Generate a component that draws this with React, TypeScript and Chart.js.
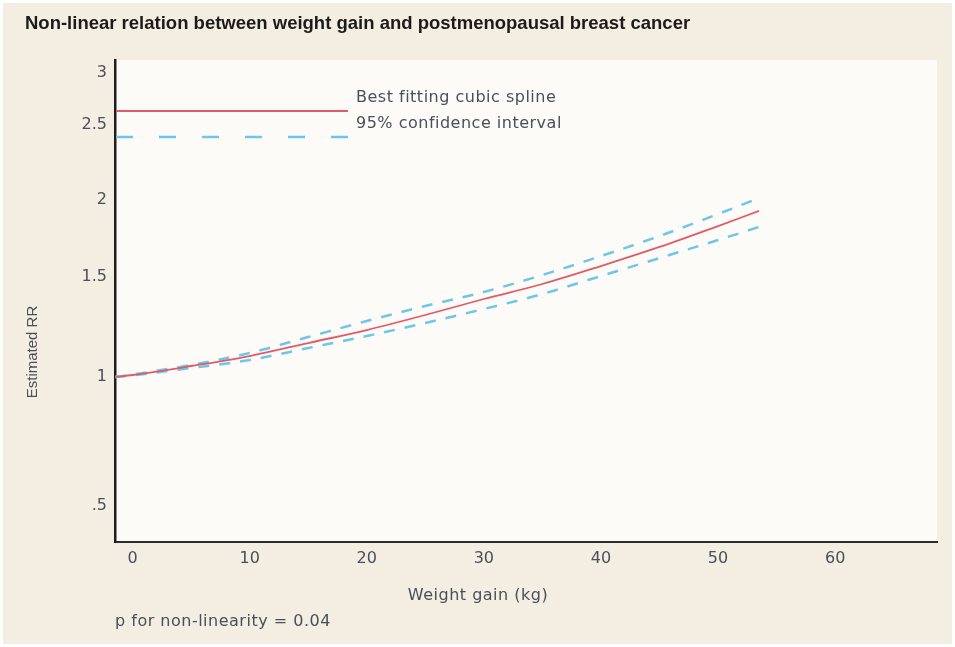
import React, { useEffect, useRef } from 'react';
import { Chart, registerables, LinearScale } from 'chart.js';

Chart.register(...registerables);

// ---- data ----
const WEIGHT_GAIN = [-1.5, 0, 5, 10, 15, 20, 25, 30, 35, 40, 45, 50, 53.5];
const SPLINE_RR = [1.0, 1.01, 1.055, 1.105, 1.17, 1.235, 1.31, 1.39, 1.465, 1.571, 1.695, 1.831, 1.929];
const UPPER_CI = [1.0, 1.0125, 1.06, 1.12, 1.2, 1.28, 1.355, 1.425, 1.513, 1.636, 1.766, 1.909, 2.013];
const LOWER_CI = [1.0, 1.008, 1.045, 1.085, 1.145, 1.205, 1.27, 1.34, 1.415, 1.506, 1.623, 1.74, 1.825];

const X_TICKS = [0, 10, 20, 30, 40, 50, 60];
const Y_TICKS = [0.5, 1, 1.5, 2, 2.5, 3];
const Y_TICK_LABELS = ['.5', '1', '1.5', '2', '2.5', '3'];

// breakpoints of the original's uneven RR axis (value -> share of axis height)
const Y_AXIS_VALUES = [0.36, 0.5, 1, 1.5, 2, 2.5, 3, 3.125];
const Y_AXIS_FRACTIONS = [0, 0.0747, 0.3423, 0.5498, 0.7095, 0.865, 0.973, 1];

const TITLE = 'Non-linear relation between weight gain and postmenopausal breast cancer';
const LEGEND_LABELS = ['Best fitting cubic spline', '95% confidence interval'];
const X_TITLE = 'Weight gain (kg)';
const Y_TITLE = 'Estimated RR';
const FOOTNOTE = 'p for non-linearity = 0.04';

const RED = '#e25a66';
const BLUE = '#70c6ea';
const TEXT = '#4a4f5a';

function interp(v: number, xs: number[], ys: number[]): number {
  const n = xs.length;
  let i = 0;
  if (v <= xs[0]) i = 0;
  else if (v >= xs[n - 1]) i = n - 2;
  else {
    while (i < n - 2 && v > xs[i + 1]) i++;
  }
  const t = (v - xs[i]) / (xs[i + 1] - xs[i]);
  return ys[i] + t * (ys[i + 1] - ys[i]);
}

class PiecewiseScale extends LinearScale {
  static id = 'piecewise';
  static defaults = {};
  getPixelForValue(value: number) {
    return this.getPixelForDecimal(interp(value, Y_AXIS_VALUES, Y_AXIS_FRACTIONS));
  }
  getValueForPixel(pixel: number) {
    return interp(this.getDecimalForPixel(pixel), Y_AXIS_FRACTIONS, Y_AXIS_VALUES);
  }
}
Chart.register(PiecewiseScale as any);

const bgPlugin = {
  id: 'bg',
  beforeDraw(chart: any) {
    const { ctx, width, height, chartArea } = chart;
    ctx.save();
    ctx.fillStyle = '#ffffff';
    ctx.fillRect(0, 0, width, height);
    ctx.fillStyle = '#f4ede1';
    ctx.fillRect(3, 3, width - 6, height - 6);
    ctx.fillStyle = '#fcfbf8';
    ctx.fillRect(chartArea.left, chartArea.top, chartArea.right - chartArea.left, chartArea.bottom - chartArea.top);
    ctx.restore();
  },
};

const textPlugin = {
  id: 'texts',
  afterDraw(chart: any) {
    const { ctx } = chart;
    ctx.save();
    ctx.textBaseline = 'middle';
    ctx.fillStyle = '#1b1b1b';
    ctx.font = 'bold 18.5px "Liberation Sans"';
    ctx.textAlign = 'left';
    ctx.fillText(TITLE, 25, 24);

    // legend
    ctx.lineCap = 'butt';
    ctx.strokeStyle = RED;
    ctx.lineWidth = 1.8;
    ctx.beginPath();
    ctx.moveTo(116, 111);
    ctx.lineTo(348, 111);
    ctx.stroke();
    ctx.strokeStyle = BLUE;
    ctx.lineWidth = 2.5;
    ctx.setLineDash([17, 26]);
    ctx.beginPath();
    ctx.moveTo(116, 137);
    ctx.lineTo(351, 137);
    ctx.stroke();
    ctx.setLineDash([]);

    ctx.fillStyle = TEXT;
    ctx.font = '16px "DejaVu Sans"';
    (ctx as any).letterSpacing = '0.5px';
    ctx.fillText(LEGEND_LABELS[0], 356, 98);
    ctx.fillText(LEGEND_LABELS[1], 356, 124);

    ctx.fillText(FOOTNOTE, 115, 622);
    ctx.textAlign = 'center';
    ctx.fillText(X_TITLE, 478, 596);
    (ctx as any).letterSpacing = '0px';

    ctx.translate(33, 352);
    ctx.rotate(-Math.PI / 2);
    ctx.font = '15px "Liberation Sans"';
    ctx.fillText(Y_TITLE, 0, 0);
    ctx.restore();
  },
};

export default function App() {
  const ref = useRef<HTMLCanvasElement | null>(null);
  useEffect(() => {
    if (!ref.current) return;
    const mk = (ys: number[]) => WEIGHT_GAIN.map((x, i) => ({ x, y: ys[i] }));
    const tickFont = { family: '"DejaVu Sans"', size: 16 };
    const chart = new Chart(ref.current, {
      type: 'line',
      data: {
        datasets: [
          {
            label: LEGEND_LABELS[0],
            data: mk(SPLINE_RR),
            borderColor: RED,
            borderWidth: 1.8,
            pointRadius: 0,
            cubicInterpolationMode: 'monotone',
          },
          {
            label: 'upper',
            data: mk(UPPER_CI),
            borderColor: BLUE,
            borderWidth: 2.5,
            borderDash: [11, 10],
            pointRadius: 0,
            cubicInterpolationMode: 'monotone',
          },
          {
            label: 'lower',
            data: mk(LOWER_CI),
            borderColor: BLUE,
            borderWidth: 2.5,
            borderDash: [11, 10],
            pointRadius: 0,
            cubicInterpolationMode: 'monotone',
          },
        ],
      },
      options: {
        responsive: false,
        animation: false,
        layout: { padding: { left: 0, top: 60, right: 18, bottom: 0 } },
        plugins: {
          legend: { display: false },
          tooltip: { enabled: false },
          title: { display: false },
        },
        scales: {
          x: {
            type: 'linear',
            min: -1.5,
            max: 68.7,
            grid: { display: false, drawTicks: false },
            border: { display: true, color: '#2b2b2b', width: 2 },
            ticks: {
              padding: 7,
              color: TEXT,
              font: tickFont,
              maxRotation: 0,
              callback: (v: any) => String(v),
            },
            afterBuildTicks: (s: any) => {
              s.ticks = X_TICKS.map((v) => ({ value: v }));
            },
            afterFit: (s: any) => {
              s.height = 105;
            },
          },
          y: {
            type: 'piecewise' as any,
            min: 0.36,
            max: 3.125,
            grid: { display: false, drawTicks: false },
            border: { display: true, color: '#1e1e1e', width: 2.5 },
            ticks: {
              padding: 8,
              color: TEXT,
              font: tickFont,
              callback: (_v: any, i: number) => Y_TICK_LABELS[i],
            },
            afterBuildTicks: (s: any) => {
              s.ticks = Y_TICKS.map((v) => ({ value: v }));
            },
            afterFit: (s: any) => {
              s.width = 115;
            },
          },
        },
      } as any,
      plugins: [bgPlugin, textPlugin],
    });
    return () => chart.destroy();
  }, []);
  return (
    <div style={{ position: 'absolute', left: 0, top: 0, width: 955, height: 647 }}>
      <canvas ref={ref} width={955} height={647} style={{ display: 'block' }} />
    </div>
  );
}
